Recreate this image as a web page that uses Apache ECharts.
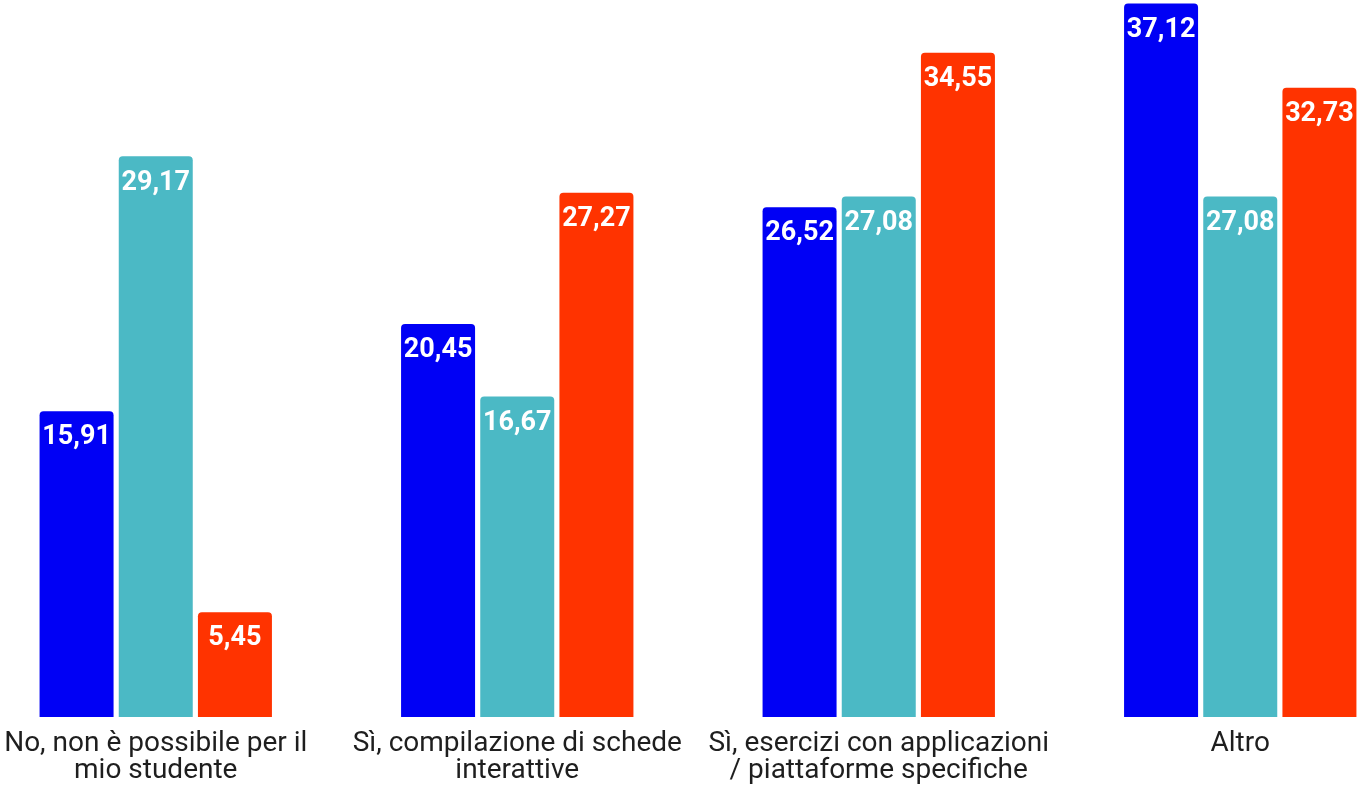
<!DOCTYPE html>
<html>
<head>
<meta charset="utf-8">
<script src="https://cdn.jsdelivr.net/npm/echarts@6/dist/echarts.min.js"></script>
<style>
html, body { margin: 0; padding: 0; background: #fff; overflow: hidden; }
/* the plot is wider than the window: the outer bars touch the edges */
#chart { position: absolute; left: -25px; top: 0; width: 1446px; height: 787px; }
</style>
</head>
<body>
<div id="chart"></div>
<script>
const categories = [
  'No, non è possibile per il\nmio studente',
  'Sì, compilazione di schede\ninterattive',
  'Sì, esercizi con applicazioni\n/ piattaforme specifiche',
  'Altro'
]
const serieA = [15.91, 20.45, 26.52, 37.12]
const serieB = [29.17, 16.67, 27.08, 27.08]
const serieC = [5.45, 27.27, 34.55, 32.73]
const colors = ['#0000f5', '#4bb9c5', '#ff3300']

const chart = echarts.init(document.getElementById('chart'))

function makeSeries(name, data, color) {
  return {
    name: name,
    type: 'bar',
    data: data,
    barWidth: 74,
    barGap: '7%',
    itemStyle: { color: color, borderRadius: [4, 4, 0, 0] },
    label: {
      show: true,
      position: 'insideTop',
      distance: 13,
      color: '#fff',
      fontFamily: 'Roboto',
      fontWeight: 'bold',
      fontSize: 27,
      formatter: p => p.value.toFixed(2).replace('.', ',')
    }
  }
}

chart.setOption({
  animation: false,
  grid: { left: 0, right: 0, top: 0, bottom: 70 },
  xAxis: {
    type: 'category',
    data: categories,
    axisLine: { show: false },
    axisTick: { show: false },
    axisLabel: {
      interval: 0,
      margin: 13,
      color: '#1e1e1e',
      fontFamily: 'Roboto',
      fontSize: 28,
      lineHeight: 27
    }
  },
  yAxis: {
    type: 'value',
    min: 0,
    max: 37.3,
    show: false,
    splitLine: { show: false }
  },
  series: [
    makeSeries('A', serieA, colors[0]),
    makeSeries('B', serieB, colors[1]),
    makeSeries('C', serieC, colors[2])
  ]
})
</script>
</body>
</html>
